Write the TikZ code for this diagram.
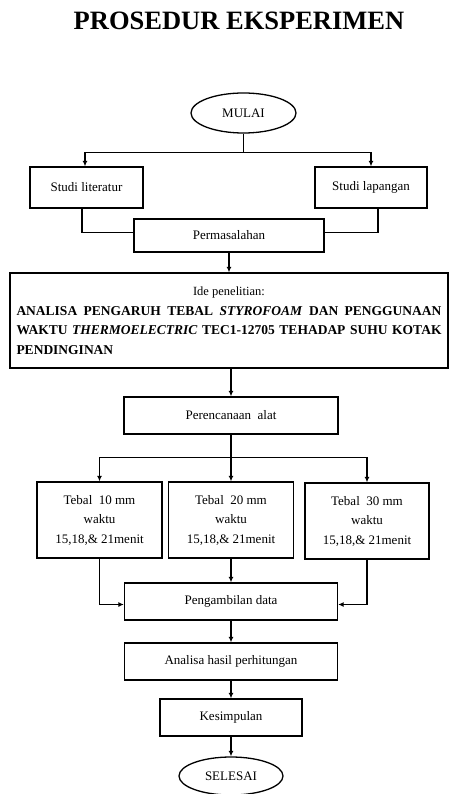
\documentclass[tikz,border=0pt]{standalone}
\usepackage{fontspec}
\setmainfont{Liberation Serif}
\usetikzlibrary{arrows.meta,shapes.geometric}

\tikzset{
  box/.style={draw, rectangle, inner sep=0pt, align=center, font=\fontsize{13}{19.5}\selectfont},
  oval/.style={draw, ellipse, inner sep=0pt, font=\fontsize{13}{15}\selectfont},
  arr/.style={-{Latex[length=5.5pt,width=5pt]}}
}

\begin{document}
\begin{tikzpicture}[x=1pt, y=-1pt, line width=1.3pt]
\useasboundingbox (0,0) rectangle (450,794);

% Title
\node[font=\bfseries\fontsize{26.5}{30}\selectfont] (title) at (239,21) {PROSEDUR EKSPERIMEN};

% Start and first split
\node[oval, minimum width=105pt, minimum height=40pt] (mulai) at (243.5,113) {MULAI};
\node[box, minimum width=113pt, minimum height=41pt] (lit) at (86.5,187.5) {Studi literatur};
\node[box, minimum width=112pt, minimum height=41pt] (lap) at (371,187.5) {Studi lapangan};
\node[box, minimum width=190pt, minimum height=33pt] (masalah) at (229,235.5) {Permasalahan};

\draw (mulai.south) -- ++(0,19) coordinate (split1);
\draw[arr] (split1) -| ([xshift=-1.5pt]lit.north);
\draw[arr] (split1) -| (lap.north);
\draw ([xshift=-4.5pt]lit.south) |- ([yshift=3pt]masalah.west);
\draw ([xshift=7pt]lap.south) |- ([yshift=3pt]masalah.east);

% Research idea
\node[box, minimum width=438pt, minimum height=95pt, text width=425pt, inner xsep=6.5pt,
      align=justify] (ide) at (229,320.5)
  {{\centering\fontsize{12.5}{15}\selectfont Ide penelitian:\par}
   \hyphenpenalty=10000\bfseries\fontsize{13.5}{19.5}\selectfont
   ANALISA PENGARUH TEBAL \textit{STYROFOAM} DAN PENGGUNAAN\linebreak
   WAKTU \textit{THERMOELECTRIC} TEC1-12705 TEHADAP SUHU KOTAK\linebreak
   PENDINGINAN};
\draw[arr] (masalah.south) -- (ide.north);

% Planning and variations
\node[box, minimum width=214pt, minimum height=37pt] (rencana) at (231,415.5) {Perencanaan\ \ alat};
\draw[arr] (rencana.north |- ide.south) -- (rencana.north);

\node[box, minimum width=125pt, minimum height=76pt] (t10) at (99.5,520) {Tebal\ \ 10 mm\\ waktu\\ 15,18,\& 21menit};
\node[box, minimum width=125pt, minimum height=76pt] (t20) at (231,520) {Tebal\ \ 20 mm\\ waktu\\ 15,18,\& 21menit};
\node[box, minimum width=124pt, minimum height=76pt] (t30) at (367,521) {Tebal\ \ 30 mm\\ waktu\\ 15,18,\& 21menit};

\draw (rencana.south) -- ++(0,23) coordinate (split2);
\draw[arr] (split2) -| (t10.north);
\draw[arr] (split2) -- (t20.north);
\draw[arr] (split2) -| (t30.north);

% Data and conclusion
\node[box, minimum width=213pt, minimum height=37pt] (data) at (231,601.5) {Pengambilan data};
\node[box, minimum width=213pt, minimum height=37pt] (analisa) at (231,661.5) {Analisa hasil perhitungan};
\node[box, minimum width=142pt, minimum height=37pt] (simpul) at (231,717.5) {Kesimpulan};
\node[oval, minimum width=104pt, minimum height=38pt] (selesai) at (231,776) {SELESAI};

\draw[arr] (t10.south) |- ([yshift=-3pt]data.west);
\draw[arr] (t20.south) -- (data.north);
\draw[arr] (t30.south) |- ([yshift=-3pt]data.east);
\draw[arr] (data.south) -- (analisa.north);
\draw[arr] (analisa.south) -- (simpul.north);
\draw[arr] (simpul.south) -- (selesai.north);
\end{tikzpicture}
\end{document}
